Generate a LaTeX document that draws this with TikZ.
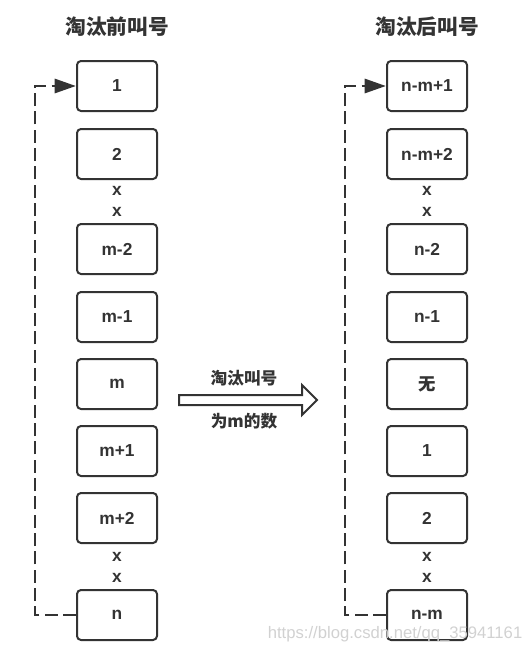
\documentclass[tikz,border=0pt]{standalone}
\usepackage{fontspec}
\setmainfont{Liberation Sans}
\newfontfamily\cjk{Noto Sans CJK SC}
\usepackage{xcolor}
\usetikzlibrary{arrows.meta,positioning}

\definecolor{ink}{HTML}{333333}

\begin{document}
\begin{tikzpicture}[x=0.75pt, y=-0.75pt,
    box/.style={draw=ink, line width=1.5pt, rounded corners=3pt, minimum width=60pt,
      minimum height=37.5pt, inner sep=0pt, text=ink, font=\fontsize{13}{15}\selectfont\bfseries},
    dots/.style={text=ink, font=\fontsize{13}{15}\selectfont\bfseries, inner sep=0pt},
    title/.style={text=ink, font=\fontsize{15.5}{18}\selectfont\cjk\bfseries},
    loopline/.style={draw=ink, line width=2.2pt, dash pattern=on 9.75pt off 4pt},
    tip/.style={-{Triangle[length=16pt, width=10.5pt]}}]
      \useasboundingbox (0,0) rectangle (529,653);

      % Before elimination
      \foreach \y/\t [count=\i] in {86/1, 154/2, 249/m-2, 317/m-1, 384/m, 451/m+1, 518/m+2, 615/n}
        \node[box] (l\i) at (117,\y) {\t};

      % After elimination
      \foreach \y/\t [count=\i] in {86/n-m+1, 154/n-m+2, 249/n-2, 317/n-1, 384/{\cjk 无}, 451/1, 518/2, 615/n-m}
        \node[box] (r\i) at (427,\y) {\t};

      % Skipped entries
      \foreach \x/\s in {117/l, 427/r} {
        \node[dots] (\s a) at (\x,191) {x};
        \node[dots] (\s b) at (\x,212) {x};
        \node[dots] (\s c) at (\x,557) {x};
        \node[dots] (\s d) at (\x,578) {x};
      }

      % Titles
      \node[title] (tl) at (117,27) {淘汰前叫号};
      \node[title] (tr) at (427,27) {淘汰后叫号};

      % Wrap-around
      \draw[loopline, tip] (l8.west) -- ++(-41,0) |- (l1.west);
      \draw[loopline, tip] (r8.west) -- ++(-41,0) |- (r1.west);

      % Middle arrow
      \draw[draw=ink, line width=1.5pt, fill=white, line join=miter]
        (179,395) -- (302,395) -- (302,385) -- (317,400) -- (302,415) -- (302,405) -- (179,405) -- cycle;
      \node[title, font=\fontsize{12.5}{14}\selectfont\cjk\bfseries] (m1) at (244,378) {淘汰叫号};
      \node[title, font=\fontsize{12.5}{14}\selectfont\cjk\bfseries] (m2) at (244,421) {为m的数};

      % Watermark
      \node[text=black!18, font=\fontsize{12.5}{14}\selectfont, anchor=east] (wm) at (527,634) {https://blog.csdn.net/qq\_35941161};
\end{tikzpicture}
\end{document}
